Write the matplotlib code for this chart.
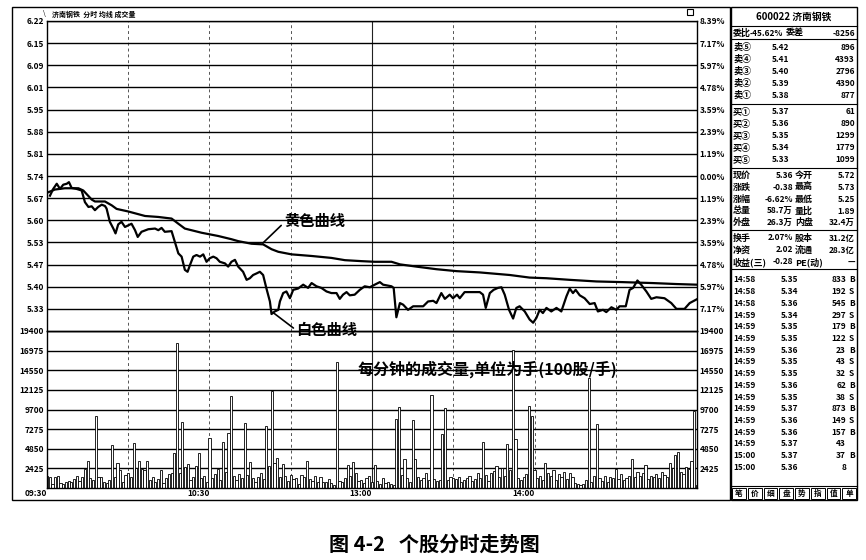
import matplotlib
matplotlib.use("Agg")
import matplotlib.pyplot as plt
import numpy as np
from matplotlib.patches import Rectangle

plt.rcParams["font.family"] = ["Noto Sans CJK SC", "DejaVu Sans"]

W, H = 866, 560

PREV_CLOSE = 5.74
STEP = 0.06866

price_labels = ["6.22", "6.15", "6.09", "6.01", "5.95", "5.88", "5.81",
                "5.74", "5.67", "5.60", "5.53", "5.47", "5.40", "5.33"]
pct_labels = ["8.39%", "7.17%", "5.97%", "4.78%", "3.59%", "2.39%", "1.19%",
              "0.00%", "1.19%", "2.39%", "3.59%", "4.78%", "5.97%", "7.17%"]
vol_ticks = [19400, 16975, 14550, 12125, 9700, 7275, 4850, 2425]
time_ticks = [0, 60, 120, 180]
time_labels = ["09:30", "10:30", "13:00", "14:00"]

# white curve: last price (minute index, price)
white_min = [1.1, 2.3, 3.6, 4.8, 6.0, 7.3, 8.1, 9.1, 10.9, 12.8, 14.0, 15.3, 16.5, 17.7,
             18.9, 20.2, 21.4, 22.0, 23.2, 24.5, 25.3, 26.3, 27.5, 28.8, 30.0, 31.2, 32.5,
             33.5, 34.9, 37.4, 39.9, 41.1, 42.3, 43.5, 46.0, 47.2, 48.5, 49.7, 50.9, 51.9,
             52.8, 54.0, 55.2, 56.5, 57.7, 58.9, 60.1, 61.4, 62.6, 63.8, 65.7, 66.9, 68.1,
             69.4, 70.6, 72.4, 73.7, 74.9, 76.1, 77.4, 78.6, 79.8, 81.0, 82.3, 82.9, 84.1,
             85.4, 86.0, 87.2, 88.4, 89.7, 90.9, 92.7, 94.6, 96.4, 97.7, 99.5, 101.3, 103.2,
             105.0, 106.9, 108.1, 109.3, 110.6, 111.8, 113.6, 115.5, 117.3, 119.2, 121.0,
             122.9, 124.1, 127.2, 128.0, 129.0, 130.3, 131.5, 133.3, 135.2, 138.9, 140.7,
             142.6, 143.8, 145.6, 146.9, 148.7, 149.9, 151.4, 152.4, 154.2, 159.8, 161.0,
             162.0, 163.5, 164.9, 166.5, 167.8, 169.0, 170.6, 172.1, 173.3, 174.5, 176.4,
             178.2, 179.5, 180.7, 181.9, 183.1, 184.4, 186.2, 188.1, 189.9, 191.8, 193.0,
             194.2, 195.2, 196.7, 198.5, 200.4, 202.2, 203.4, 205.3, 206.5, 208.4, 210.2,
             211.4, 213.7, 215.1, 216.4, 218.0, 219.4, 221.3, 223.1, 225.0, 228.0, 230.5,
             232.4, 235.4, 237.3, 240.0]
white_price = [5.679, 5.700, 5.716, 5.700, 5.713, 5.716, 5.721, 5.703, 5.700, 5.695, 5.659,
               5.644, 5.646, 5.634, 5.644, 5.651, 5.647, 5.639, 5.598, 5.577, 5.562, 5.590,
               5.598, 5.582, 5.587, 5.592, 5.572, 5.551, 5.567, 5.575, 5.577, 5.572, 5.579,
               5.567, 5.569, 5.536, 5.500, 5.490, 5.449, 5.443, 5.464, 5.490, 5.495, 5.490,
               5.497, 5.474, 5.485, 5.490, 5.485, 5.474, 5.469, 5.459, 5.474, 5.480, 5.459,
               5.443, 5.418, 5.423, 5.433, 5.438, 5.443, 5.433, 5.392, 5.351, 5.312, 5.320,
               5.325, 5.351, 5.377, 5.382, 5.361, 5.387, 5.391, 5.403, 5.393, 5.408, 5.398,
               5.393, 5.382, 5.377, 5.377, 5.359, 5.372, 5.380, 5.370, 5.372, 5.387, 5.398,
               5.395, 5.403, 5.411, 5.403, 5.398, 5.393, 5.302, 5.346, 5.341, 5.325, 5.336,
               5.336, 5.351, 5.353, 5.346, 5.377, 5.359, 5.372, 5.361, 5.372, 5.361, 5.380,
               5.380, 5.372, 5.331, 5.377, 5.387, 5.393, 5.395, 5.372, 5.325, 5.298, 5.331,
               5.336, 5.320, 5.295, 5.285, 5.300, 5.325, 5.315, 5.331, 5.320, 5.331, 5.320,
               5.367, 5.391, 5.377, 5.387, 5.370, 5.361, 5.343, 5.346, 5.320, 5.325, 5.318,
               5.333, 5.325, 5.336, 5.336, 5.387, 5.393, 5.416, 5.403, 5.382, 5.359, 5.364,
               5.361, 5.346, 5.328, 5.328, 5.346, 5.358]

# yellow curve: average price
avg_min = [0.0, 2.9, 6.6, 11.6, 13.4, 16.5, 17.7, 21.4, 23.9, 25.7, 30.0, 36.2, 41.1, 46.0,
           48.5, 50.9, 57.1, 63.2, 68.1, 70.6, 75.5, 79.8, 82.9, 85.4, 90.3, 97.7, 105.0,
           110.0, 116.1, 121.0, 127.2, 130.3, 136.4, 143.8, 151.2, 159.8, 170.9, 178.2,
           184.4, 193.0, 202.9, 212.3, 223.7, 232.3, 240.0]
avg_price = [5.688, 5.698, 5.702, 5.702, 5.695, 5.667, 5.661, 5.661, 5.649, 5.638, 5.630,
             5.616, 5.613, 5.608, 5.592, 5.577, 5.564, 5.554, 5.544, 5.538, 5.530, 5.528,
             5.513, 5.505, 5.497, 5.492, 5.486, 5.479, 5.476, 5.474, 5.474, 5.466, 5.459,
             5.451, 5.445, 5.441, 5.433, 5.425, 5.423, 5.418, 5.413, 5.411, 5.408, 5.405,
             5.403]

# per-minute volume (hands), 241 minutes
volume = [1500, 1300, 500, 1400, 1500, 600, 500, 800, 900, 700,
          1100, 1500, 900, 1400, 2300, 3340, 1200, 1000, 8880, 1300,
          1300, 700, 600, 1000, 5300, 1400, 3130, 2200, 700, 1600,
          1800, 1400, 5500, 2500, 3340, 2300, 2200, 3340, 1000, 1300,
          800, 1100, 2200, 600, 1200, 1700, 1800, 4380, 17930, 1800,
          8130, 2600, 2920, 1000, 1300, 2700, 4300, 1200, 1500, 800,
          6130, 1200, 1700, 2400, 1000, 5710, 2000, 6750, 11380, 1500,
          1000, 1700, 1200, 8050, 1600, 3210, 1200, 800, 1400, 1800,
          1100, 7630, 2700, 11970, 3130, 3750, 1300, 2920, 1500, 900,
          1600, 1100, 1200, 500, 1600, 1300, 3340, 1100, 900, 1500,
          700, 1300, 800, 700, 1100, 600, 400, 15510, 900, 800,
          1200, 2790, 1500, 3210, 1800, 900, 1000, 600, 1200, 1500,
          800, 2790, 900, 500, 1200, 600, 800, 500, 400, 8550,
          10000, 1600, 3630, 1200, 800, 8460, 3630, 1400, 1000, 1200,
          1800, 1000, 11470, 1100, 900, 1000, 6670, 9880, 1000, 1300,
          1200, 1100, 1300, 800, 1000, 1200, 1500, 900, 1100, 1800,
          1200, 5710, 1600, 900, 1900, 2100, 2700, 1300, 2500, 1500,
          5420, 2200, 17100, 6050, 1200, 1000, 1300, 1700, 10130, 8880,
          2200, 1200, 1500, 1000, 3130, 1800, 1500, 2200, 1000, 1700,
          1300, 2000, 1100, 1800, 1300, 600, 500, 400, 500, 1000,
          13550, 800, 1500, 7920, 1200, 900, 1500, 800, 1300, 1200,
          2380, 1100, 1700, 1000, 1200, 1500, 3540, 1300, 2000, 1500,
          1800, 2790, 1100, 1500, 1300, 1700, 1200, 2000, 1600, 1400,
          3130, 2500, 4050, 4460, 2000, 1700, 2600, 2300, 3340, 9470,
          400]

# right-hand quote panel
stock_title = "600022 济南钢铁"
order_ratio = ["委比", "-45.62%", "委差", "-8256"]
book_labels = ["卖⑤", "卖④", "卖③", "卖②", "卖①", "买①", "买②", "买③", "买④", "买⑤"]
book_prices = ["5.42", "5.41", "5.40", "5.39", "5.38", "5.37", "5.36", "5.35", "5.34", "5.33"]
book_vols = ["896", "4393", "2796", "4390", "877", "61", "890", "1299", "1779", "1099"]
stat_rows = [
    ("现价", "5.36", "今开", "5.72"),
    ("涨跌", "-0.38", "最高", "5.73"),
    ("涨幅", "-6.62%", "最低", "5.25"),
    ("总量", "58.7万", "量比", "1.89"),
    ("外盘", "26.3万", "内盘", "32.4万"),
    ("换手", "2.07%", "股本", "31.2亿"),
    ("净资", "2.02", "流通", "28.3亿"),
    ("收益(三)", "-0.28", "PE(动)", "—"),
]
trade_times = ["14:58", "14:58", "14:58", "14:59", "14:59", "14:59", "14:59", "14:59", "14:59",
               "14:59", "14:59", "14:59", "14:59", "14:59", "14:59", "15:00", "15:00"]
trade_prices = ["5.35", "5.34", "5.36", "5.34", "5.35", "5.35", "5.36", "5.35", "5.35",
                "5.36", "5.35", "5.37", "5.36", "5.36", "5.37", "5.37", "5.36"]
trade_vols = ["833", "192", "545", "297", "179", "122", "23", "43", "32",
              "62", "38", "873", "149", "157", "43", "37", "8"]
trade_sides = ["B", "S", "B", "S", "B", "S", "B", "S", "S",
               "B", "S", "B", "S", "B", "", "B", ""]
buttons = ["笔", "价", "细", "盘", "势", "指", "值", "单"]


def px_axes(fig, x0, y0, x1, y1):
    return fig.add_axes([x0 / W, 1 - y1 / H, (x1 - x0) / W, (y1 - y0) / H])


def main() -> None:
    fig = plt.figure(figsize=(W / 100, H / 100), dpi=100)
    fig.patch.set_facecolor("white")

    price_pos = PREV_CLOSE + STEP * np.arange(7, -7, -1)
    ax_p = px_axes(fig, 47, 21, 697, 331)
    ax_v = px_axes(fig, 47, 331, 697, 488)
    ax_v.set_facecolor("none")

    for ax in (ax_p, ax_v):
        ax.set_xlim(0, 240)
        for s in ax.spines.values():
            s.set_color("black")
            s.set_linewidth(1.0)
        for m in (30, 60, 90, 150, 180, 210):
            ax.axvline(m, color="#555555", lw=0.7, ls=(0, (3, 3)), zorder=1)
        ax.axvline(120, color="#222222", lw=0.8, zorder=1)
        ax.tick_params(length=0, labelsize=6, pad=2)

    ax_p.set_ylim(PREV_CLOSE - 7 * STEP, PREV_CLOSE + 7 * STEP)
    for y in price_pos:
        ax_p.axhline(y, color="black", lw=1.0, zorder=1)
    ax_p.set_yticks(price_pos)
    ax_p.set_yticklabels(price_labels, fontweight="bold")
    ax_p.set_xticks([])
    ax_pr = ax_p.twinx()
    ax_pr.set_ylim(ax_p.get_ylim())
    ax_pr.set_yticks(price_pos)
    ax_pr.set_yticklabels(pct_labels, fontweight="bold")
    ax_pr.tick_params(length=0, labelsize=6, pad=2)
    for s in ax_pr.spines.values():
        s.set_visible(False)

    ax_p.plot(avg_min, avg_price, color="black", lw=1.6, zorder=3)
    ax_p.plot(white_min, white_price, color="black", lw=1.6, zorder=3)

    ax_v.set_ylim(0, 19400)
    for v in vol_ticks:
        ax_v.axhline(v, color="black", lw=1.0, zorder=1)
    ax_v.set_yticks(vol_ticks)
    ax_v.set_yticklabels([str(v) for v in vol_ticks], fontweight="bold")
    ax_vr = ax_v.twinx()
    ax_vr.set_ylim(0, 19400)
    ax_vr.set_yticks(vol_ticks)
    ax_vr.set_yticklabels([str(v) for v in vol_ticks], fontweight="bold")
    ax_vr.tick_params(length=0, labelsize=6, pad=2)
    for s in ax_vr.spines.values():
        s.set_visible(False)
    ax_v.bar(np.arange(len(volume)), volume, width=0.8, color="white",
             edgecolor="black", linewidth=0.6, zorder=2)
    ax_v.set_xticks(time_ticks)
    ax_v.set_xticklabels(time_labels, fontweight="bold", ha="right")
    ax_v.tick_params(axis="x", pad=1)

    # annotations
    ax_p.annotate("黄色曲线", xy=(79.7, 5.532), xytext=(87.5, 5.600),
                  fontsize=11, fontweight="bold", va="center", ha="left",
                  arrowprops=dict(arrowstyle="-", color="black", lw=1.2,
                                  shrinkA=0, shrinkB=0, relpos=(0, 0.4)),
                  zorder=5)
    ax_p.annotate("白色曲线", xy=(83.4, 5.317), xytext=(92.0, 5.262),
                  fontsize=11, fontweight="bold", va="center", ha="left",
                  arrowprops=dict(arrowstyle="-", color="black", lw=1.2,
                                  shrinkA=0, shrinkB=0, relpos=(0, 0.5)),
                  zorder=5, annotation_clip=False)
    ax_v.text(114.8, 14700, "每分钟的成交量,单位为手(100股/手)", fontsize=11.5,
              fontweight="bold", va="center", ha="left", zorder=5)

    # overlay in pixel coordinates for frames and quote panel
    ov = fig.add_axes([0, 0, 1, 1])
    ov.set_xlim(0, W)
    ov.set_ylim(H, 0)
    ov.axis("off")
    ov.patch.set_alpha(0)

    ov.add_patch(Rectangle((12, 7), 718, 493, fill=False, ec="black", lw=1.0))
    ov.text(44, 14, "\\", fontsize=5, ha="center", va="center")
    ov.text(52, 14, "济南钢铁  分时 均线 成交量", fontsize=5, fontweight="bold",
            ha="left", va="center")
    ov.add_patch(Rectangle((687, 9), 6, 6, fill=False, ec="black", lw=0.8))

    px0, px1 = 731, 857
    ov.add_patch(Rectangle((px0, 7), px1 - px0, 493, fill=False, ec="black", lw=1.0))
    ov.plot([px0, px1], [26, 26], color="black", lw=0.8)
    ov.text((px0 + px1) / 2, 17, stock_title, fontsize=7, fontweight="bold",
            ha="center", va="center")
    fs = 6.5
    ov.text(px0 + 2, 33, order_ratio[0], fontsize=fs, fontweight="bold", va="center")
    ov.text(px0 + 52, 33, order_ratio[1], fontsize=fs - 0.5, fontweight="bold",
            va="center", ha="right")
    ov.text(px0 + 55, 33, order_ratio[2], fontsize=fs, fontweight="bold", va="center")
    ov.text(px1 - 2, 33, order_ratio[3], fontsize=fs - 0.5, fontweight="bold",
            va="center", ha="right")
    ov.plot([px0, px1], [39, 39], color="black", lw=0.8)

    book_y = [47, 59, 71, 83, 95, 112, 124, 136, 148, 160]
    for y, lab, pr, vo in zip(book_y, book_labels, book_prices, book_vols):
        ov.text(px0 + 2, y, lab, fontsize=fs, fontweight="bold", va="center")
        ov.text(px0 + 58, y, pr, fontsize=fs - 0.5, fontweight="bold", va="center",
                ha="right")
        ov.text(px1 - 2, y, vo, fontsize=fs - 0.5, fontweight="bold", va="center",
                ha="right")
    ov.plot([px0, px1], [104, 104], color="black", lw=0.8)
    ov.plot([px0, px1], [168, 168], color="black", lw=0.8)

    stat_y = [175, 187, 199, 211, 223, 238, 250, 262]
    for y, (a, b, c, d) in zip(stat_y, stat_rows):
        ov.text(px0 + 2, y, a, fontsize=fs, fontweight="bold", va="center")
        ov.text(px0 + 62, y, b, fontsize=fs - 0.5, fontweight="bold", va="center",
                ha="right")
        ov.text(px0 + 64, y, c, fontsize=fs, fontweight="bold", va="center")
        ov.text(px1 - 2, y, d, fontsize=fs - 0.5, fontweight="bold", va="center",
                ha="right")
    ov.plot([px0, px1], [230, 230], color="black", lw=0.8)
    ov.plot([px0, px1], [269, 269], color="black", lw=0.8)

    for i, (t, p, v, s) in enumerate(zip(trade_times, trade_prices, trade_vols, trade_sides)):
        y = 280 + i * 11.7
        ov.text(px0 + 2, y, t, fontsize=fs - 0.5, fontweight="bold", va="center")
        ov.text(px0 + 67, y, p, fontsize=fs - 0.5, fontweight="bold", va="center",
                ha="right")
        ov.text(px1 - 11, y, v, fontsize=fs - 0.5, fontweight="bold", va="center",
                ha="right")
        ov.text(px1 - 8, y, s, fontsize=fs - 0.5, fontweight="bold", va="center")
    ov.plot([px0, px1], [486, 486], color="black", lw=0.8)
    bw = (px1 - px0) / len(buttons)
    for i, b in enumerate(buttons):
        ov.add_patch(Rectangle((px0 + i * bw + 1, 488), bw - 2, 11, fill=False,
                               ec="black", lw=0.7))
        ov.text(px0 + (i + 0.5) * bw, 493.5, b, fontsize=5.5, fontweight="bold",
                ha="center", va="center")

    ov.text(434, 544, "图 4-2   个股分时走势图", fontsize=14.5, fontweight="bold",
            ha="center", va="center")

    fig.savefig("out.png", dpi=100)
    plt.close(fig)


if __name__ == "__main__":
    main()
